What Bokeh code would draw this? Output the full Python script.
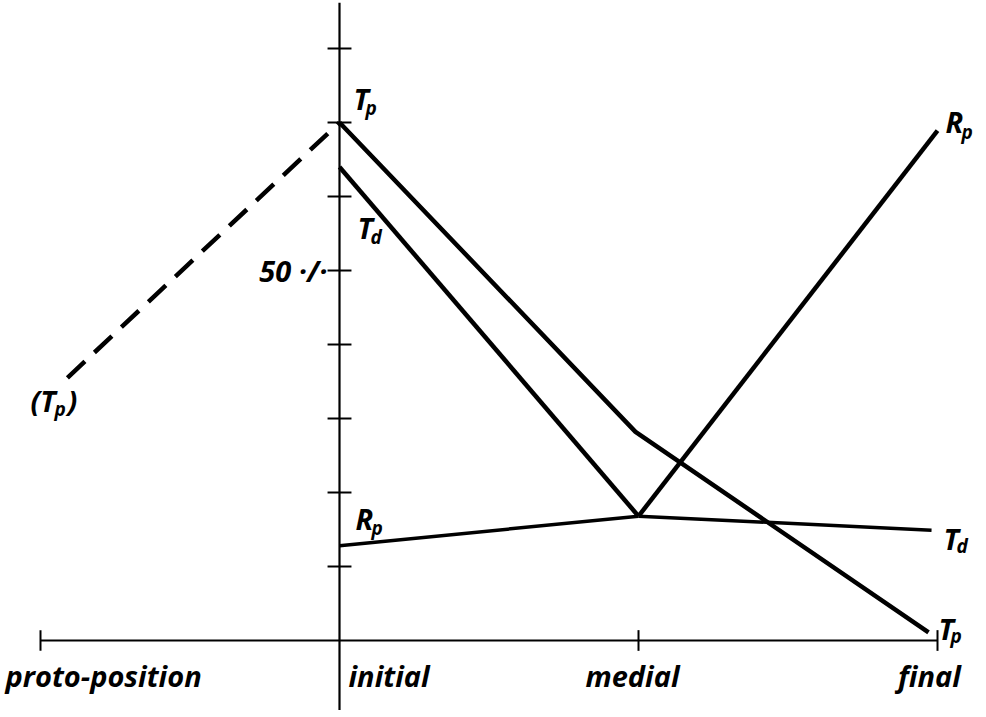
from bokeh.plotting import figure
from bokeh.models import Range1d
from bokeh.core.properties import value
from bokeh.embed import file_html
from bokeh.resources import INLINE

# ---- data ----
positions = ["proto-position", "initial", "medial", "final"]
pos_x = [0, 1, 2, 3]
tp_proto_x = [0.09, 1]          # dashed (Tp) from proto-position to initial
tp_proto = [35.5, 70]
tp_x = [1, 1.99, 2.97]
tp = [70, 28.2, 1.1]
td_x = [1, 2, 2.98]
td = [64, 16.8, 14.9]
rp_x = [1, 2, 3]
rp = [12.8, 16.8, 68.9]
y_ticks = [10, 20, 30, 40, 50, 60, 70, 80]
y_tick_label = "50 ·/·"
y_label_at = 50

FONT = value("Open Sans")
STYLE = "bold italic"
BIG = "29px"
SMALL = "19px"

p = figure(width=980, height=710,
           x_range=Range1d(-0.1338, 3.1438), y_range=Range1d(-9.46, 86.49),
           min_border=0, x_axis_location=None, y_axis_location=None,
           toolbar_location=None, output_backend="svg")
p.outline_line_color = None
p.grid.grid_line_color = None
p.background_fill_color = "white"
p.border_fill_color = "white"

# vertical axis at "initial"
p.segment(x0=[pos_x[1]], y0=[-12], x1=[pos_x[1]], y1=[86.2], line_color="black", line_width=2.2)
p.segment(x0=[pos_x[1] - 0.04] * len(y_ticks), y0=y_ticks,
          x1=[pos_x[1] + 0.04] * len(y_ticks), y1=y_ticks,
          line_color="black", line_width=2)

# horizontal axis
p.segment(x0=[pos_x[0]], y0=[0], x1=[pos_x[-1]], y1=[0], line_color="black", line_width=2)
tick_x = [pos_x[0], pos_x[2], pos_x[3]]
p.segment(x0=tick_x, y0=[-1.4] * 3, x1=tick_x, y1=[1.4] * 3, line_color="black", line_width=2)

# series
p.line(tp_proto_x, tp_proto, line_color="black", line_width=4.5, line_dash="24 13")
p.line(tp_x, tp, line_color="black", line_width=4.5)
p.line(td_x[:2], td[:2], line_color="black", line_width=4.5)
p.line(td_x[1:], td[1:], line_color="black", line_width=3.5)
p.line(rp_x[:2], rp[:2], line_color="black", line_width=3.5)
p.line(rp_x[1:], rp[1:], line_color="black", line_width=4.5)


def txt(x, y, t, dx, dy, size=BIG, align="left"):
    p.text(x=[x], y=[y], text=[t], x_offset=dx, y_offset=dy,
           text_font=FONT, text_font_style=STYLE, text_font_size=size,
           text_align=align, text_baseline="middle", text_color="black")


# category labels
cat_align = ["left", "left", "center", "center"]
cat_dx = [-35, 9, -6, -8]
for x, t, a, dx in zip(pos_x, positions, cat_align, cat_dx):
    txt(x, 0, t, dx, 35, align=a)

# 50 % label
txt(pos_x[1], y_label_at, y_tick_label, -12, 0, align="right")


# series labels (main letter + subscript), anchored to data points with pixel offsets
def lab(x, y, main, sub, dx, dy, sdx, sdy):
    txt(x, y, main, dx, dy)
    txt(x, y, sub, sdx, sdy, size=SMALL)


lab(tp_x[0], tp[0], "T", "p", 14, -24, 26, -15)
lab(td_x[0], td[0], "T", "d", 18, 61, 31, 70)
lab(rp_x[-1], rp[-1], "R", "p", 8, -9, 24, 1)
lab(tp_proto_x[0], tp_proto[0], "(T", "p", -37, 23, -13, 31)
txt(tp_proto_x[0], tp_proto[0], ")", 0, 23)
lab(rp_x[0], rp[0], "R", "p", 16, -27, 32, -18)
lab(td_x[-1], td[-1], "T", "d", 12, 8, 25, 16)
lab(tp_x[-1], tp[-1], "T", "p", 10, -4, 22, 4)

open("out.html", "w").write(file_html(p, INLINE))
